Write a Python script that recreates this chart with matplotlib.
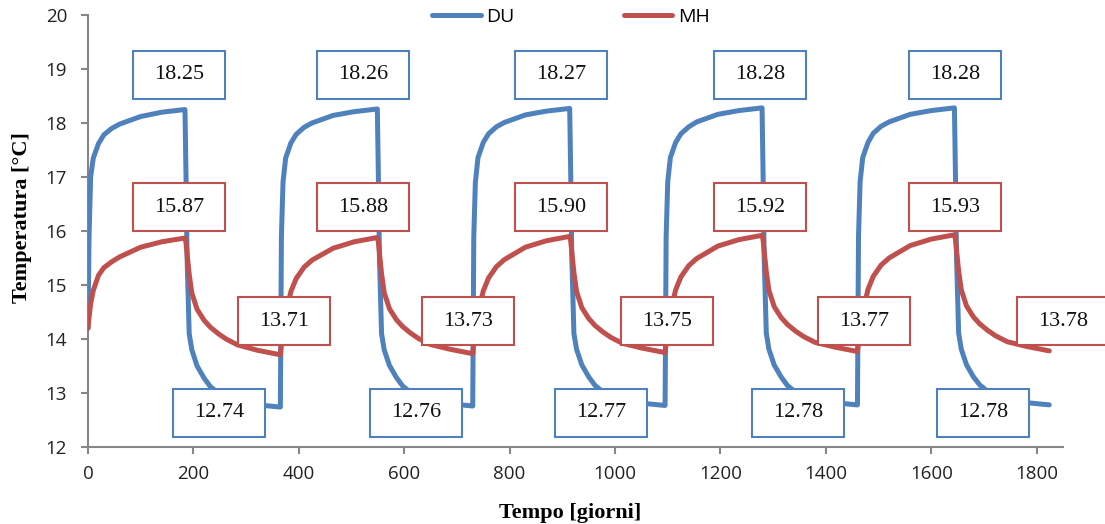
import matplotlib
matplotlib.use("Agg")
import matplotlib.pyplot as plt
import matplotlib.transforms as mtransforms
from matplotlib.patches import Rectangle

# ---------------- data ----------------
cycle_starts = [0, 365, 730, 1095, 1460]
day_offsets = [0, 2, 5, 10, 20, 30, 45, 60, 100, 140, 184, 186, 188, 192, 197,
               207, 220, 232, 247, 262, 284, 322, 364]

du_cycles = [
    [14.20, 15.90, 17.00, 17.35, 17.62, 17.78, 17.90, 17.98, 18.12, 18.20, 18.25, 17.00, 15.50, 14.10, 13.80, 13.50, 13.28, 13.12, 13.00, 12.93, 12.85, 12.78, 12.74],
    [12.74, 15.90, 16.90, 17.35, 17.63, 17.79, 17.92, 18.00, 18.14, 18.21, 18.26, 17.00, 15.50, 14.10, 13.80, 13.51, 13.29, 13.13, 13.01, 12.94, 12.86, 12.80, 12.76],
    [12.76, 15.90, 16.90, 17.36, 17.64, 17.80, 17.93, 18.01, 18.15, 18.22, 18.27, 17.00, 15.50, 14.10, 13.81, 13.52, 13.30, 13.14, 13.02, 12.95, 12.87, 12.81, 12.77],
    [12.77, 15.90, 16.91, 17.36, 17.64, 17.80, 17.93, 18.02, 18.16, 18.23, 18.28, 17.00, 15.50, 14.11, 13.81, 13.52, 13.30, 13.14, 13.02, 12.95, 12.88, 12.82, 12.78],
    [12.78, 15.90, 16.91, 17.36, 17.64, 17.81, 17.94, 18.02, 18.16, 18.23, 18.28, 17.00, 15.50, 14.11, 13.81, 13.52, 13.30, 13.15, 13.03, 12.96, 12.88, 12.82, 12.78],
]
mh_cycles = [
    [14.20, 14.40, 14.65, 14.90, 15.18, 15.32, 15.43, 15.52, 15.70, 15.80, 15.87, 15.78, 15.58, 15.20, 14.85, 14.55, 14.35, 14.22, 14.10, 14.00, 13.89, 13.79, 13.71],
    [13.71, 13.90, 14.15, 14.45, 14.88, 15.12, 15.33, 15.46, 15.68, 15.80, 15.88, 15.79, 15.59, 15.21, 14.86, 14.56, 14.36, 14.23, 14.11, 14.01, 13.90, 13.81, 13.73],
    [13.73, 13.92, 14.17, 14.47, 14.89, 15.13, 15.34, 15.47, 15.70, 15.82, 15.90, 15.81, 15.61, 15.23, 14.88, 14.58, 14.38, 14.25, 14.13, 14.03, 13.92, 13.83, 13.75],
    [13.75, 13.94, 14.19, 14.49, 14.91, 15.15, 15.36, 15.49, 15.72, 15.84, 15.92, 15.83, 15.63, 15.25, 14.90, 14.60, 14.40, 14.27, 14.15, 14.05, 13.94, 13.85, 13.77],
    [13.77, 13.95, 14.20, 14.50, 14.92, 15.16, 15.37, 15.50, 15.73, 15.85, 15.93, 15.84, 15.64, 15.26, 14.91, 14.61, 14.41, 14.28, 14.16, 14.06, 13.95, 13.86, 13.78],
]

du_peak_labels = ["18.25", "18.26", "18.27", "18.28", "18.28"]
du_low_labels = ["12.74", "12.76", "12.77", "12.78", "12.78"]
mh_peak_labels = ["15.87", "15.88", "15.90", "15.92", "15.93"]
mh_low_labels = ["13.71", "13.73", "13.75", "13.77", "13.78"]

x_ticks = [0, 200, 400, 600, 800, 1000, 1200, 1400, 1600, 1800]
y_ticks = [12, 13, 14, 15, 16, 17, 18, 19, 20]

# label box centres (data coords)
peak_box_x = [172.6, 521.6, 897.2, 1274.7, 1644.5]
du_low_box_x = [248.5, 622.2, 973.1, 1346.7, 1697.6]
mh_low_box_x = [372.7, 721.9, 1098.3, 1471.9, 1849.4]
du_peak_box_y = 18.89
mh_peak_box_y = 16.44
mh_low_box_y = 14.33
du_low_box_y = 12.63

# --------------- styles ---------------
BLUE = "#4F81BD"
RED = "#C0504D"
AXC = "#868686"

fig = plt.figure(figsize=(11.05, 5.24), dpi=100)
ax = fig.add_axes([88 / 1105, (524 - 447) / 524, 975 / 1105, 432 / 524])

days, du, mh = [], [], []
for s, dcyc, mcyc in zip(cycle_starts, du_cycles, mh_cycles):
    days += [s + o for o in day_offsets]
    du += dcyc
    mh += mcyc

ax.plot(days, du, color=BLUE, lw=3.6, solid_joinstyle="round",
        solid_capstyle="round", label="DU", zorder=3)
ax.plot(days, mh, color=RED, lw=3.6, solid_joinstyle="round",
        solid_capstyle="round", label="MH", zorder=3)

ax.set_xlim(0, 1850)
ax.set_ylim(12, 20)
ax.set_xticks(x_ticks)
ax.set_yticks(y_ticks)

for sp in ["top", "right"]:
    ax.spines[sp].set_visible(False)
for sp in ["left", "bottom"]:
    ax.spines[sp].set_color(AXC)
    ax.spines[sp].set_linewidth(1.5)
ax.tick_params(axis="both", colors=AXC, length=5, width=1.5, direction="out",
               labelcolor="#222222", labelsize=13.5)
ax.tick_params(axis="y", pad=10)
ax.tick_params(axis="x", pad=8)
for lab in ax.get_xticklabels() + ax.get_yticklabels():
    lab.set_fontfamily("Open Sans")

ax.set_xlabel("Tempo [giorni]", fontfamily="Liberation Serif", fontweight="bold",
              fontsize=16)
ax.set_ylabel("Temperatura [°C]", fontfamily="Liberation Serif", fontweight="bold",
              fontsize=16)
ax.xaxis.set_label_coords(0.494, -0.13)
ax.yaxis.set_label_coords(-0.057, 0.53)


def box(x, y, text, color):
    trans = mtransforms.Affine2D() + mtransforms.ScaledTranslation(x, y, ax.transData)
    r = Rectangle((-46, -24), 92, 48, transform=trans, facecolor="white",
                  edgecolor=color, lw=1.5, zorder=5, clip_on=False)
    ax.add_artist(r)
    ax.text(x, y, text, ha="center", va="center", fontsize=16,
            fontfamily="Liberation Serif", color="#111111", zorder=6,
            clip_on=False)


for i in range(5):
    box(peak_box_x[i], du_peak_box_y, du_peak_labels[i], BLUE)
    box(peak_box_x[i], mh_peak_box_y, mh_peak_labels[i], RED)
    box(mh_low_box_x[i], mh_low_box_y, mh_low_labels[i], RED)
    box(du_low_box_x[i], du_low_box_y, du_low_labels[i], BLUE)

leg = fig.legend(loc="center left", bbox_to_anchor=(432 / 1105, 1 - 17 / 524),
                 ncol=2, frameon=False, handlelength=2.5,
                 handletextpad=0.3, columnspacing=5.6, borderpad=0,
                 borderaxespad=0, prop={"family": "Open Sans", "size": 14})
for line in leg.get_lines():
    line.set_linewidth(3.6)
    line.set_solid_capstyle("round")

fig.savefig("out.png", dpi=100)
